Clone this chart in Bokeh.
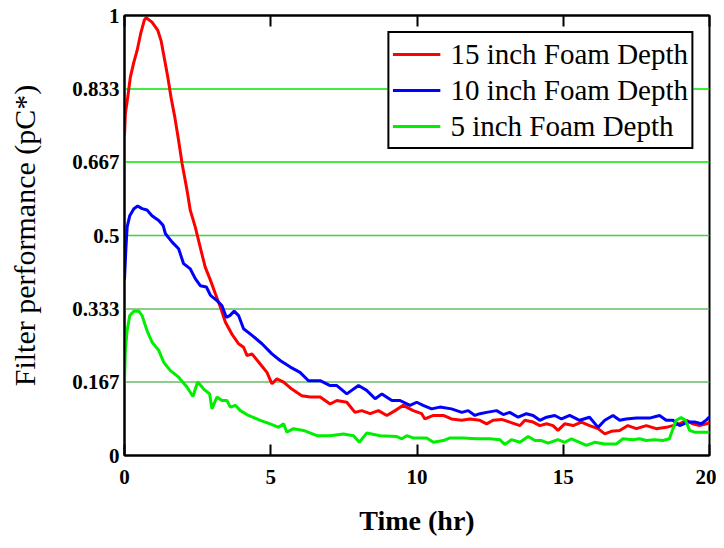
from bokeh.plotting import figure
from bokeh.models import Range1d, LinearAxis, FixedTicker, Span, CustomJSTickFormatter
from bokeh.embed import file_html
from bokeh.resources import INLINE

# ---- data ----
x_ticks = [0, 5, 10, 15, 20]
y_ticks = [0, 0.167, 0.333, 0.5, 0.667, 0.833, 1.0]
y_tick_labels = ["0", "0.167", "0.333", "0.5", "0.667", "0.833", "1"]

series_names = ["15 inch Foam Depth", "10 inch Foam Depth", "5 inch Foam Depth"]

red_15in = [
    (0, 0.727), (0.03, 0.777), (0.11, 0.814), (0.2, 0.86), (0.32, 0.894), (0.43, 0.92),
    (0.55, 0.958), (0.68, 0.99), (0.74, 0.995), (0.94, 0.985), (1.14, 0.966), (1.25, 0.943),
    (1.37, 0.90), (1.48, 0.86), (1.59, 0.814), (1.72, 0.769), (1.85, 0.716), (1.97, 0.663),
    (2.14, 0.602), (2.25, 0.557), (2.42, 0.519), (2.59, 0.473), (2.76, 0.428), (2.94, 0.398),
    (3.11, 0.367), (3.28, 0.337), (3.45, 0.303), (3.67, 0.276), (3.9, 0.254), (4.07, 0.246),
    (4.19, 0.227), (4.36, 0.231), (4.64, 0.208), (4.87, 0.189), (5.04, 0.163), (5.21, 0.174),
    (5.44, 0.167), (5.72, 0.151), (6.06, 0.136), (6.35, 0.133), (6.69, 0.133), (7.03, 0.117),
    (7.26, 0.125), (7.6, 0.121), (7.88, 0.098), (8.11, 0.102), (8.4, 0.095), (8.68, 0.102),
    (8.97, 0.091), (9.25, 0.102), (9.53, 0.114), (9.87, 0.102), (10.16, 0.095), (10.27, 0.083),
    (10.56, 0.091), (10.9, 0.091), (11.18, 0.083), (11.52, 0.080), (11.81, 0.083), (12.15, 0.080),
    (12.38, 0.072), (12.6, 0.080), (12.89, 0.082), (13.17, 0.076), (13.52, 0.068), (13.69, 0.080),
    (13.97, 0.076), (14.2, 0.068), (14.43, 0.072), (14.65, 0.068), (14.82, 0.057), (15.05, 0.072),
    (15.34, 0.068), (15.62, 0.076), (15.9, 0.068), (16.19, 0.061), (16.42, 0.049), (16.64, 0.055),
    (16.93, 0.057), (17.21, 0.068), (17.5, 0.061), (17.84, 0.068), (18.18, 0.061), (18.52, 0.064),
    (18.75, 0.068), (18.98, 0.072), (19.21, 0.080), (19.43, 0.072), (19.66, 0.068), (19.9, 0.072),
    (20, 0.075),
]

blue_10in = [
    (0, 0.40), (0.05, 0.473), (0.09, 0.519), (0.18, 0.545), (0.32, 0.561), (0.45, 0.567),
    (0.6, 0.561), (0.77, 0.558), (0.94, 0.545), (1.17, 0.534), (1.32, 0.523), (1.4, 0.504),
    (1.63, 0.485), (1.85, 0.470), (2.02, 0.436), (2.25, 0.424), (2.42, 0.402), (2.59, 0.386),
    (2.8, 0.383), (2.94, 0.364), (3.16, 0.352), (3.33, 0.341), (3.48, 0.314), (3.6, 0.318),
    (3.75, 0.328), (3.9, 0.318), (4.07, 0.288), (4.36, 0.273), (4.7, 0.254), (5.04, 0.231),
    (5.32, 0.216), (5.67, 0.201), (6.0, 0.189), (6.29, 0.170), (6.69, 0.170), (7.03, 0.159),
    (7.26, 0.159), (7.6, 0.140), (8.0, 0.159), (8.28, 0.148), (8.57, 0.129), (8.8, 0.140),
    (9.14, 0.125), (9.42, 0.125), (9.76, 0.114), (9.99, 0.121), (10.21, 0.114), (10.5, 0.106),
    (10.78, 0.110), (11.18, 0.106), (11.53, 0.098), (11.75, 0.102), (11.98, 0.091), (12.15, 0.095),
    (12.38, 0.098), (12.72, 0.102), (12.95, 0.093), (13.17, 0.098), (13.46, 0.087), (13.74, 0.095),
    (13.97, 0.091), (14.2, 0.080), (14.43, 0.087), (14.71, 0.091), (14.94, 0.083), (15.22, 0.091),
    (15.56, 0.080), (15.9, 0.087), (16.19, 0.064), (16.42, 0.080), (16.7, 0.091), (16.93, 0.080),
    (17.15, 0.083), (17.5, 0.085), (17.95, 0.085), (18.29, 0.091), (18.52, 0.080), (18.75, 0.080),
    (18.98, 0.068), (19.26, 0.076), (19.49, 0.076), (19.72, 0.072), (19.9, 0.081), (20, 0.088),
]

green_5in = [
    (0, 0.170), (0.03, 0.239), (0.09, 0.284), (0.18, 0.318), (0.32, 0.328), (0.49, 0.328),
    (0.6, 0.318), (0.77, 0.284), (0.94, 0.258), (1.17, 0.239), (1.34, 0.212), (1.57, 0.193),
    (1.85, 0.178), (2.14, 0.155), (2.34, 0.134), (2.5, 0.167), (2.71, 0.151), (2.91, 0.140),
    (2.99, 0.106), (3.16, 0.133), (3.33, 0.125), (3.5, 0.125), (3.62, 0.110), (3.79, 0.114),
    (3.96, 0.102), (4.24, 0.091), (4.64, 0.080), (4.98, 0.072), (5.27, 0.064), (5.44, 0.072),
    (5.55, 0.053), (5.78, 0.061), (6.12, 0.057), (6.58, 0.045), (7.03, 0.045), (7.48, 0.049),
    (7.83, 0.045), (8.03, 0.030), (8.28, 0.051), (8.74, 0.045), (9.31, 0.043), (9.48, 0.038),
    (9.65, 0.045), (9.87, 0.040), (10.33, 0.040), (10.56, 0.030), (10.9, 0.034), (11.13, 0.040),
    (11.58, 0.040), (12.04, 0.038), (12.49, 0.038), (12.83, 0.036), (13.0, 0.025), (13.23, 0.036),
    (13.52, 0.030), (13.8, 0.043), (14.03, 0.034), (14.26, 0.034), (14.48, 0.028), (14.82, 0.036),
    (15.05, 0.030), (15.28, 0.038), (15.56, 0.030), (15.79, 0.023), (16.07, 0.030), (16.42, 0.026),
    (16.81, 0.026), (17.04, 0.038), (17.38, 0.036), (17.61, 0.038), (17.84, 0.034), (18.12, 0.036),
    (18.41, 0.034), (18.63, 0.038), (18.73, 0.057), (18.86, 0.080), (19.03, 0.086), (19.18, 0.080),
    (19.32, 0.057), (19.49, 0.053), (19.9, 0.053), (20, 0.053),
]

# ---- styles ----
SERIF = "Liberation Serif"
line_colors = ["#ff0000", "#0000ff", "#00ee00"]
grid_colors = {0.167: "#66bb66", 0.333: "#66bb66", 0.5: "#3ad83a", 0.667: "#00e600", 0.833: "#00e600"}

p = figure(width=716, height=548, x_range=Range1d(0, 20), y_range=Range1d(0, 1),
           output_backend="svg", toolbar_location=None,
           min_border_left=124, min_border_right=7, min_border_top=15, min_border_bottom=93)

p.xgrid.visible = False
p.ygrid.visible = False
p.outline_line_color = "black"
p.outline_line_width = 2

for yt in y_ticks[1:-1]:
    p.add_layout(Span(location=yt, dimension="width", line_color=grid_colors[yt],
                      line_width=1.5, level="underlay"))

for data, name, col in zip([red_15in, blue_10in, green_5in], series_names, line_colors):
    xs = [d[0] for d in data]
    ys = [d[1] for d in data]
    p.line(xs, ys, line_color=col, line_width=3, legend_label=name)

# bottom axis
xa = p.xaxis[0]
xa.ticker = FixedTicker(ticks=x_ticks)
xa.major_tick_in = 11
xa.major_tick_out = 0
xa.major_tick_line_width = 2
xa.minor_tick_line_color = None
xa.axis_line_width = 2
xa.major_label_text_font = SERIF
xa.major_label_text_font_style = "bold"
xa.major_label_text_font_size = "21px"
xa.major_label_text_color = "black"
xa.major_label_standoff = 14
xa.axis_label = "Time (hr)"
xa.axis_label_text_font = SERIF
xa.axis_label_text_font_style = "bold"
xa.axis_label_text_font_size = "28px"
xa.axis_label_text_color = "black"
xa.axis_label_standoff = 18

# left axis
ya = p.yaxis[0]
ya.ticker = FixedTicker(ticks=y_ticks)
ya.major_label_overrides = {t: l for t, l in zip(y_ticks, y_tick_labels)}
ya.major_tick_in = 0
ya.major_tick_out = 0
ya.minor_tick_line_color = None
ya.axis_line_width = 2
ya.major_label_text_font = SERIF
ya.major_label_text_font_style = "bold"
ya.major_label_text_font_size = "21px"
ya.major_label_text_color = "black"
ya.major_label_standoff = 5
ya.axis_label = "Filter performance (pC*)"
ya.axis_label_text_font = SERIF
ya.axis_label_text_font_style = "normal"
ya.axis_label_text_font_size = "30px"
ya.axis_label_text_color = "black"
ya.axis_label_standoff = 28

# top axis (mirrored ticks only)
top = LinearAxis(ticker=FixedTicker(ticks=x_ticks), major_tick_in=11, major_tick_out=0,
                 major_tick_line_width=2, minor_tick_line_color=None, axis_line_width=2,
                 formatter=CustomJSTickFormatter(code="return ''"), major_label_standoff=0)
p.add_layout(top, "above")

lg = p.legend[0]
lg.location = "top_right"
lg.margin = 16
lg.border_line_color = "black"
lg.border_line_alpha = 1
lg.border_line_width = 2
lg.background_fill_alpha = 1
lg.label_text_font = SERIF
lg.label_text_font_size = "29px"
lg.label_text_color = "black"
lg.glyph_width = 48
lg.glyph_height = 36
lg.label_height = 36
lg.spacing = 0
lg.padding = 3
lg.label_standoff = 10

open("out.html", "w").write(file_html(p, INLINE))
